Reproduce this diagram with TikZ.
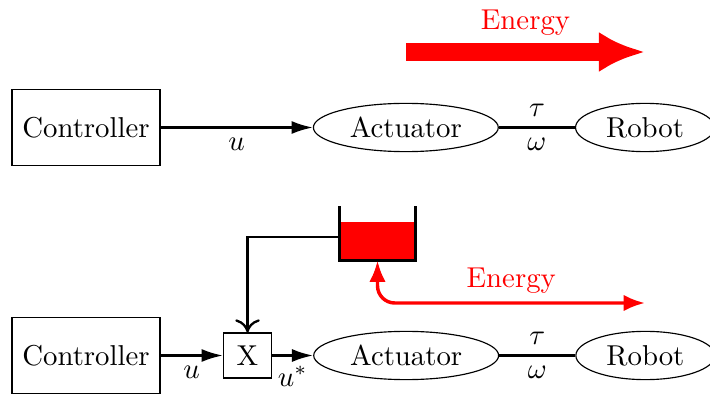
\documentclass[tikz,border=0pt]{standalone}
\usepackage{amsmath}
\usepackage{tikz}
\usetikzlibrary{positioning, arrows.meta, shapes.geometric}

\begin{document}
\begin{tikzpicture}[
    x=0.01222cm, y=-0.01222cm,
    >=Latex,
    block/.style={draw, minimum width=1.81cm, minimum height=0.92cm},
    mult/.style={draw, minimum width=0.59cm, minimum height=0.55cm, inner sep=0pt},
    elli/.style={draw, ellipse, inner sep=0pt, minimum height=0.59cm},
    sig/.style={thick, -{Latex[length=2.6mm, width=1.6mm]}},
    flow/.style={red, very thick, {Latex[length=2.6mm, width=2mm]}-{Latex[length=2.6mm, width=2mm]},
                 rounded corners=6pt},
]
\useasboundingbox (0,0) rectangle (710,394);

% top: plain actuator
\node[block] (ctrlA) at (86,127.5) {Controller};
\node[elli, minimum width=2.26cm, right=1.86cm of ctrlA] (actA) {Actuator};
\node[elli, minimum width=1.7cm, right=0.93cm of actA] (robA) {Robot};
\draw[sig] (ctrlA) -- node[below] {$u$} (actA);
\draw[thick] (actA) -- node[above] {$\tau$} node[below] {$\omega$} (robA);

\coordinate (eA1) at (406,52);
\coordinate (eA2) at (645,52);
\draw[red, line width=6pt, -{Latex[length=16pt, width=14pt]}] (eA1) -- node[above=-0.5pt] {Energy} (eA2);

% bottom: actuator with energy tank
\node[block] (ctrlB) at (86,355.5) {Controller};
\node[mult, right=0.76cm of ctrlB] (gate) {X};
\node[elli, minimum width=2.26cm, right=0.5cm of gate] (actB) {Actuator};
\node[elli, minimum width=1.7cm, right=0.93cm of actB] (robB) {Robot};
\draw[sig] (ctrlB) -- node[below] {$u$} (gate);
\draw[sig] (gate) -- node[below] {$u^*$} (actB);
\draw[thick] (actB) -- node[above] {$\tau$} node[below] {$\omega$} (robB);

\node[fill=red, minimum width=0.917cm, minimum height=0.464cm, inner sep=0pt] (tank) at (377.5,241) {};
\draw[thick] ([yshift=0.183cm]tank.north west) -- (tank.south west)
    -- (tank.south east) -- ([yshift=0.183cm]tank.north east);
\draw[thick, -{To[length=1.6mm, width=3mm]}] (tank.west |- 0,237) -| (gate.north);

\coordinate (eB) at (645,303);
\draw[flow] (tank.south) |- node[pos=0.75, above=-0.5pt] {Energy} (eB);
\end{tikzpicture}
\end{document}
